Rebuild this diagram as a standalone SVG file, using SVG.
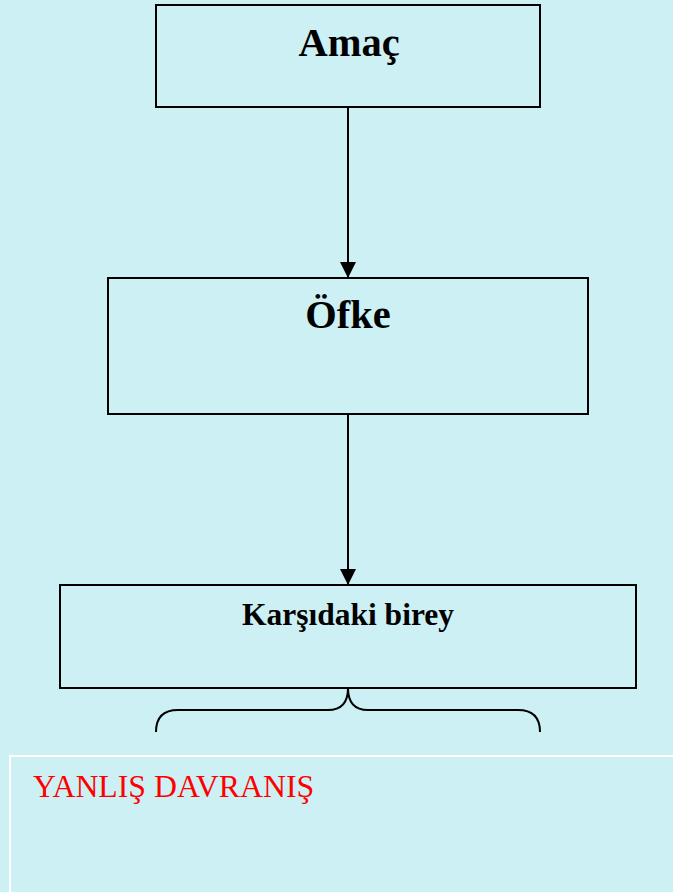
<svg xmlns="http://www.w3.org/2000/svg" width="673" height="892" viewBox="0 0 673 892">
<defs>
<style>
.box{fill:none;stroke:#000;stroke-width:2}
.t{font-family:"Liberation Serif","Times New Roman",serif;font-weight:bold;fill:#000;text-anchor:middle}
.c{fill:none;stroke:#000;stroke-width:2}
</style>
<marker id="ah" viewBox="0 0 16 16" refX="16" refY="8" markerWidth="16" markerHeight="16" markerUnits="userSpaceOnUse" orient="auto">
<path d="M0,0 L16,8 L0,16 Z" fill="#000"/>
</marker>
</defs>
<rect x="0" y="0" width="673" height="892" fill="#CDF0F4"/>
<g id="connectors">
<line class="c" x1="348" y1="107" x2="348" y2="278" marker-end="url(#ah)"/>
<line class="c" x1="348" y1="414" x2="348" y2="585" marker-end="url(#ah)"/>
<path class="c" d="M156,732 Q156,710 178,710 L328,710 Q348,710 348,688 Q348,710 368,710 L518,710 Q540,710 540,732"/>
</g>
<g id="amac">
<rect class="box" x="156" y="5" width="384" height="102"/>
<text class="t" x="349" y="56" font-size="40.5">Amaç</text>
</g>
<g id="ofke">
<rect class="box" x="108" y="278" width="480" height="136"/>
<text class="t" x="348" y="328" font-size="40.5">Öfke</text>
</g>
<g id="karsidaki">
<rect class="box" x="60" y="585" width="576" height="103"/>
<text class="t" x="348" y="625" font-size="31.5">Karşıdaki birey</text>
</g>
<g id="yanlis">
<rect x="10" y="756" width="680" height="150" fill="none" stroke="#fff" stroke-width="2"/>
<text x="33" y="797" font-family="Liberation Serif,'Times New Roman',serif" font-size="31.8" fill="#FF0000">YANLIŞ DAVRANIŞ</text>
</g>
</svg>
